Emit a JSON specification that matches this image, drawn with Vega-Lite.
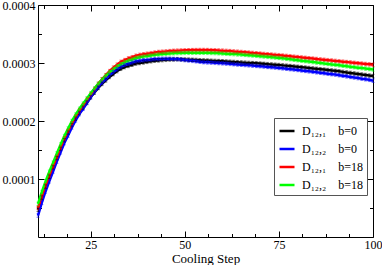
{
"$schema": "https://vega.github.io/schema/vega-lite/v6.json",
"width": 335, "height": 232,
"autosize": "none",
"padding": {"left": 38, "top": 5, "right": 9, "bottom": 28},
"config": {"font": "Liberation Serif", "view": {"stroke": null},
  "axis": {"grid": false, "domainColor": "#000", "tickColor": "#000", "labelColor": "#000", "labelFont": "Liberation Serif", "labelFontSize": 12, "titleFont": "Liberation Serif", "titleFontSize": 13, "titleFontWeight": "normal", "titleColor": "#000", "labelFlush": false, "labelOverlap": false, "domainWidth": 1, "tickWidth": 1}},
"data": {"values": [
{"s":11,"g":"K","v":0.47e-4,"e":0.03e-4},{"s":12,"g":"K","v":0.68e-4,"e":0.03e-4},{"s":13,"g":"K","v":0.87e-4,"e":0.03e-4},{"s":14,"g":"K","v":1.04e-4,"e":0.03e-4},{"s":15,"g":"K","v":1.20e-4,"e":0.03e-4},{"s":16,"g":"K","v":1.36e-4,"e":0.03e-4},{"s":17,"g":"K","v":1.52e-4,"e":0.03e-4},{"s":18,"g":"K","v":1.67e-4,"e":0.03e-4},{"s":19,"g":"K","v":1.80e-4,"e":0.03e-4},{"s":20,"g":"K","v":1.93e-4,"e":0.03e-4},
{"s":21,"g":"K","v":2.04e-4,"e":0.03e-4},{"s":22,"g":"K","v":2.14e-4,"e":0.03e-4},{"s":23,"g":"K","v":2.23e-4,"e":0.03e-4},{"s":24,"g":"K","v":2.32e-4,"e":0.03e-4},{"s":25,"g":"K","v":2.41e-4,"e":0.03e-4},{"s":26,"g":"K","v":2.49e-4,"e":0.03e-4},{"s":27,"g":"K","v":2.57e-4,"e":0.03e-4},{"s":28,"g":"K","v":2.64e-4,"e":0.03e-4},{"s":29,"g":"K","v":2.70e-4,"e":0.03e-4},{"s":30,"g":"K","v":2.76e-4,"e":0.03e-4},
{"s":31,"g":"K","v":2.81e-4,"e":0.03e-4},{"s":32,"g":"K","v":2.86e-4,"e":0.03e-4},{"s":33,"g":"K","v":2.90e-4,"e":0.03e-4},{"s":34,"g":"K","v":2.93e-4,"e":0.03e-4},{"s":35,"g":"K","v":2.95e-4,"e":0.03e-4},{"s":36,"g":"K","v":2.97e-4,"e":0.03e-4},{"s":37,"g":"K","v":2.99e-4,"e":0.03e-4},{"s":38,"g":"K","v":3.00e-4,"e":0.03e-4},{"s":39,"g":"K","v":3.01e-4,"e":0.03e-4},{"s":40,"g":"K","v":3.02e-4,"e":0.03e-4},
{"s":41,"g":"K","v":3.03e-4,"e":0.03e-4},{"s":42,"g":"K","v":3.04e-4,"e":0.03e-4},{"s":43,"g":"K","v":3.045e-4,"e":0.03e-4},{"s":44,"g":"K","v":3.05e-4,"e":0.03e-4},{"s":45,"g":"K","v":3.055e-4,"e":0.03e-4},{"s":46,"g":"K","v":3.06e-4,"e":0.03e-4},{"s":47,"g":"K","v":3.062e-4,"e":0.03e-4},{"s":48,"g":"K","v":3.065e-4,"e":0.03e-4},{"s":49,"g":"K","v":3.063e-4,"e":0.03e-4},{"s":50,"g":"K","v":3.06e-4,"e":0.03e-4},
{"s":51,"g":"K","v":3.058e-4,"e":0.03e-4},{"s":52,"g":"K","v":3.055e-4,"e":0.03e-4},{"s":53,"g":"K","v":3.052e-4,"e":0.03e-4},{"s":54,"g":"K","v":3.048e-4,"e":0.03e-4},{"s":55,"g":"K","v":3.045e-4,"e":0.03e-4},{"s":56,"g":"K","v":3.042e-4,"e":0.03e-4},{"s":57,"g":"K","v":3.039e-4,"e":0.03e-4},{"s":58,"g":"K","v":3.036e-4,"e":0.03e-4},{"s":59,"g":"K","v":3.033e-4,"e":0.03e-4},{"s":60,"g":"K","v":3.03e-4,"e":0.03e-4},
{"s":61,"g":"K","v":3.026e-4,"e":0.03e-4},{"s":62,"g":"K","v":3.022e-4,"e":0.03e-4},{"s":63,"g":"K","v":3.018e-4,"e":0.03e-4},{"s":64,"g":"K","v":3.014e-4,"e":0.03e-4},{"s":65,"g":"K","v":3.01e-4,"e":0.03e-4},{"s":66,"g":"K","v":3.006e-4,"e":0.03e-4},{"s":67,"g":"K","v":3.002e-4,"e":0.03e-4},{"s":68,"g":"K","v":2.998e-4,"e":0.03e-4},{"s":69,"g":"K","v":2.994e-4,"e":0.03e-4},{"s":70,"g":"K","v":2.99e-4,"e":0.03e-4},
{"s":71,"g":"K","v":2.985e-4,"e":0.03e-4},{"s":72,"g":"K","v":2.98e-4,"e":0.03e-4},{"s":73,"g":"K","v":2.975e-4,"e":0.03e-4},{"s":74,"g":"K","v":2.97e-4,"e":0.03e-4},{"s":75,"g":"K","v":2.965e-4,"e":0.03e-4},{"s":76,"g":"K","v":2.959e-4,"e":0.03e-4},{"s":77,"g":"K","v":2.953e-4,"e":0.03e-4},{"s":78,"g":"K","v":2.947e-4,"e":0.03e-4},{"s":79,"g":"K","v":2.941e-4,"e":0.03e-4},{"s":80,"g":"K","v":2.935e-4,"e":0.03e-4},
{"s":81,"g":"K","v":2.928e-4,"e":0.03e-4},{"s":82,"g":"K","v":2.921e-4,"e":0.03e-4},{"s":83,"g":"K","v":2.914e-4,"e":0.03e-4},{"s":84,"g":"K","v":2.907e-4,"e":0.03e-4},{"s":85,"g":"K","v":2.90e-4,"e":0.03e-4},{"s":86,"g":"K","v":2.893e-4,"e":0.03e-4},{"s":87,"g":"K","v":2.886e-4,"e":0.03e-4},{"s":88,"g":"K","v":2.879e-4,"e":0.03e-4},{"s":89,"g":"K","v":2.872e-4,"e":0.03e-4},{"s":90,"g":"K","v":2.865e-4,"e":0.03e-4},
{"s":91,"g":"K","v":2.856e-4,"e":0.03e-4},{"s":92,"g":"K","v":2.847e-4,"e":0.03e-4},{"s":93,"g":"K","v":2.838e-4,"e":0.03e-4},{"s":94,"g":"K","v":2.829e-4,"e":0.03e-4},{"s":95,"g":"K","v":2.82e-4,"e":0.03e-4},{"s":96,"g":"K","v":2.811e-4,"e":0.03e-4},{"s":97,"g":"K","v":2.802e-4,"e":0.03e-4},{"s":98,"g":"K","v":2.793e-4,"e":0.03e-4},{"s":99,"g":"K","v":2.784e-4,"e":0.03e-4},{"s":100,"g":"K","v":2.775e-4,"e":0.03e-4},
{"s":11,"g":"B","v":0.37e-4,"e":0.03e-4},{"s":12,"g":"B","v":0.59e-4,"e":0.03e-4},{"s":13,"g":"B","v":0.785e-4,"e":0.03e-4},{"s":14,"g":"B","v":0.96e-4,"e":0.03e-4},{"s":15,"g":"B","v":1.13e-4,"e":0.03e-4},{"s":16,"g":"B","v":1.30e-4,"e":0.03e-4},{"s":17,"g":"B","v":1.46e-4,"e":0.03e-4},{"s":18,"g":"B","v":1.62e-4,"e":0.03e-4},{"s":19,"g":"B","v":1.75e-4,"e":0.03e-4},{"s":20,"g":"B","v":1.89e-4,"e":0.03e-4},
{"s":21,"g":"B","v":2.01e-4,"e":0.03e-4},{"s":22,"g":"B","v":2.12e-4,"e":0.03e-4},{"s":23,"g":"B","v":2.21e-4,"e":0.03e-4},{"s":24,"g":"B","v":2.31e-4,"e":0.03e-4},{"s":25,"g":"B","v":2.41e-4,"e":0.03e-4},{"s":26,"g":"B","v":2.50e-4,"e":0.03e-4},{"s":27,"g":"B","v":2.58e-4,"e":0.03e-4},{"s":28,"g":"B","v":2.66e-4,"e":0.03e-4},{"s":29,"g":"B","v":2.72e-4,"e":0.03e-4},{"s":30,"g":"B","v":2.79e-4,"e":0.03e-4},
{"s":31,"g":"B","v":2.84e-4,"e":0.03e-4},{"s":32,"g":"B","v":2.89e-4,"e":0.03e-4},{"s":33,"g":"B","v":2.934e-4,"e":0.03e-4},{"s":34,"g":"B","v":2.965e-4,"e":0.03e-4},{"s":35,"g":"B","v":2.987e-4,"e":0.03e-4},{"s":36,"g":"B","v":3.008e-4,"e":0.03e-4},{"s":37,"g":"B","v":3.029e-4,"e":0.03e-4},{"s":38,"g":"B","v":3.04e-4,"e":0.03e-4},{"s":39,"g":"B","v":3.047e-4,"e":0.03e-4},{"s":40,"g":"B","v":3.054e-4,"e":0.03e-4},
{"s":41,"g":"B","v":3.06e-4,"e":0.03e-4},{"s":42,"g":"B","v":3.067e-4,"e":0.03e-4},{"s":43,"g":"B","v":3.069e-4,"e":0.03e-4},{"s":44,"g":"B","v":3.073e-4,"e":0.03e-4},{"s":45,"g":"B","v":3.075e-4,"e":0.03e-4},{"s":46,"g":"B","v":3.074e-4,"e":0.03e-4},{"s":47,"g":"B","v":3.07e-4,"e":0.03e-4},{"s":48,"g":"B","v":3.067e-4,"e":0.03e-4},{"s":49,"g":"B","v":3.059e-4,"e":0.03e-4},{"s":50,"g":"B","v":3.05e-4,"e":0.03e-4},
{"s":51,"g":"B","v":3.044e-4,"e":0.03e-4},{"s":52,"g":"B","v":3.037e-4,"e":0.03e-4},{"s":53,"g":"B","v":3.03e-4,"e":0.03e-4},{"s":54,"g":"B","v":3.022e-4,"e":0.03e-4},{"s":55,"g":"B","v":3.015e-4,"e":0.03e-4},{"s":56,"g":"B","v":3.011e-4,"e":0.03e-4},{"s":57,"g":"B","v":3.007e-4,"e":0.03e-4},{"s":58,"g":"B","v":3.003e-4,"e":0.03e-4},{"s":59,"g":"B","v":2.999e-4,"e":0.03e-4},{"s":60,"g":"B","v":2.995e-4,"e":0.03e-4},
{"s":61,"g":"B","v":2.99e-4,"e":0.03e-4},{"s":62,"g":"B","v":2.985e-4,"e":0.03e-4},{"s":63,"g":"B","v":2.98e-4,"e":0.03e-4},{"s":64,"g":"B","v":2.975e-4,"e":0.03e-4},{"s":65,"g":"B","v":2.97e-4,"e":0.03e-4},{"s":66,"g":"B","v":2.965e-4,"e":0.03e-4},{"s":67,"g":"B","v":2.96e-4,"e":0.03e-4},{"s":68,"g":"B","v":2.955e-4,"e":0.03e-4},{"s":69,"g":"B","v":2.95e-4,"e":0.03e-4},{"s":70,"g":"B","v":2.945e-4,"e":0.03e-4},
{"s":71,"g":"B","v":2.939e-4,"e":0.03e-4},{"s":72,"g":"B","v":2.933e-4,"e":0.03e-4},{"s":73,"g":"B","v":2.927e-4,"e":0.03e-4},{"s":74,"g":"B","v":2.921e-4,"e":0.03e-4},{"s":75,"g":"B","v":2.915e-4,"e":0.03e-4},{"s":76,"g":"B","v":2.908e-4,"e":0.03e-4},{"s":77,"g":"B","v":2.901e-4,"e":0.03e-4},{"s":78,"g":"B","v":2.894e-4,"e":0.03e-4},{"s":79,"g":"B","v":2.887e-4,"e":0.03e-4},{"s":80,"g":"B","v":2.88e-4,"e":0.03e-4},
{"s":81,"g":"B","v":2.872e-4,"e":0.03e-4},{"s":82,"g":"B","v":2.864e-4,"e":0.03e-4},{"s":83,"g":"B","v":2.856e-4,"e":0.03e-4},{"s":84,"g":"B","v":2.848e-4,"e":0.03e-4},{"s":85,"g":"B","v":2.84e-4,"e":0.03e-4},{"s":86,"g":"B","v":2.832e-4,"e":0.03e-4},{"s":87,"g":"B","v":2.824e-4,"e":0.03e-4},{"s":88,"g":"B","v":2.816e-4,"e":0.03e-4},{"s":89,"g":"B","v":2.808e-4,"e":0.03e-4},{"s":90,"g":"B","v":2.80e-4,"e":0.03e-4},
{"s":91,"g":"B","v":2.79e-4,"e":0.03e-4},{"s":92,"g":"B","v":2.78e-4,"e":0.03e-4},{"s":93,"g":"B","v":2.77e-4,"e":0.03e-4},{"s":94,"g":"B","v":2.76e-4,"e":0.03e-4},{"s":95,"g":"B","v":2.75e-4,"e":0.03e-4},{"s":96,"g":"B","v":2.74e-4,"e":0.03e-4},{"s":97,"g":"B","v":2.73e-4,"e":0.03e-4},{"s":98,"g":"B","v":2.72e-4,"e":0.03e-4},{"s":99,"g":"B","v":2.71e-4,"e":0.03e-4},{"s":100,"g":"B","v":2.695e-4,"e":0.03e-4},
{"s":11,"g":"R","v":0.50e-4,"e":0.03e-4},{"s":12,"g":"R","v":0.70e-4,"e":0.03e-4},{"s":13,"g":"R","v":0.89e-4,"e":0.03e-4},{"s":14,"g":"R","v":1.06e-4,"e":0.03e-4},{"s":15,"g":"R","v":1.22e-4,"e":0.03e-4},{"s":16,"g":"R","v":1.38e-4,"e":0.03e-4},{"s":17,"g":"R","v":1.545e-4,"e":0.03e-4},{"s":18,"g":"R","v":1.70e-4,"e":0.03e-4},{"s":19,"g":"R","v":1.83e-4,"e":0.03e-4},{"s":20,"g":"R","v":1.96e-4,"e":0.03e-4},
{"s":21,"g":"R","v":2.075e-4,"e":0.03e-4},{"s":22,"g":"R","v":2.18e-4,"e":0.03e-4},{"s":23,"g":"R","v":2.275e-4,"e":0.03e-4},{"s":24,"g":"R","v":2.37e-4,"e":0.03e-4},{"s":25,"g":"R","v":2.46e-4,"e":0.03e-4},{"s":26,"g":"R","v":2.55e-4,"e":0.03e-4},{"s":27,"g":"R","v":2.64e-4,"e":0.03e-4},{"s":28,"g":"R","v":2.72e-4,"e":0.03e-4},{"s":29,"g":"R","v":2.79e-4,"e":0.03e-4},{"s":30,"g":"R","v":2.86e-4,"e":0.03e-4},
{"s":31,"g":"R","v":2.92e-4,"e":0.03e-4},{"s":32,"g":"R","v":2.97e-4,"e":0.03e-4},{"s":33,"g":"R","v":3.02e-4,"e":0.03e-4},{"s":34,"g":"R","v":3.05e-4,"e":0.03e-4},{"s":35,"g":"R","v":3.08e-4,"e":0.03e-4},{"s":36,"g":"R","v":3.10e-4,"e":0.03e-4},{"s":37,"g":"R","v":3.125e-4,"e":0.03e-4},{"s":38,"g":"R","v":3.14e-4,"e":0.03e-4},{"s":39,"g":"R","v":3.15e-4,"e":0.03e-4},{"s":40,"g":"R","v":3.16e-4,"e":0.03e-4},
{"s":41,"g":"R","v":3.17e-4,"e":0.03e-4},{"s":42,"g":"R","v":3.18e-4,"e":0.03e-4},{"s":43,"g":"R","v":3.19e-4,"e":0.03e-4},{"s":44,"g":"R","v":3.195e-4,"e":0.03e-4},{"s":45,"g":"R","v":3.20e-4,"e":0.03e-4},{"s":46,"g":"R","v":3.205e-4,"e":0.03e-4},{"s":47,"g":"R","v":3.21e-4,"e":0.03e-4},{"s":48,"g":"R","v":3.213e-4,"e":0.03e-4},{"s":49,"g":"R","v":3.216e-4,"e":0.03e-4},{"s":50,"g":"R","v":3.218e-4,"e":0.03e-4},
{"s":51,"g":"R","v":3.22e-4,"e":0.03e-4},{"s":52,"g":"R","v":3.222e-4,"e":0.03e-4},{"s":53,"g":"R","v":3.223e-4,"e":0.03e-4},{"s":54,"g":"R","v":3.224e-4,"e":0.03e-4},{"s":55,"g":"R","v":3.224e-4,"e":0.03e-4},{"s":56,"g":"R","v":3.223e-4,"e":0.03e-4},{"s":57,"g":"R","v":3.221e-4,"e":0.03e-4},{"s":58,"g":"R","v":3.219e-4,"e":0.03e-4},{"s":59,"g":"R","v":3.216e-4,"e":0.03e-4},{"s":60,"g":"R","v":3.213e-4,"e":0.03e-4},
{"s":61,"g":"R","v":3.209e-4,"e":0.03e-4},{"s":62,"g":"R","v":3.205e-4,"e":0.03e-4},{"s":63,"g":"R","v":3.20e-4,"e":0.03e-4},{"s":64,"g":"R","v":3.195e-4,"e":0.03e-4},{"s":65,"g":"R","v":3.19e-4,"e":0.03e-4},{"s":66,"g":"R","v":3.185e-4,"e":0.03e-4},{"s":67,"g":"R","v":3.18e-4,"e":0.03e-4},{"s":68,"g":"R","v":3.174e-4,"e":0.03e-4},{"s":69,"g":"R","v":3.168e-4,"e":0.03e-4},{"s":70,"g":"R","v":3.162e-4,"e":0.03e-4},
{"s":71,"g":"R","v":3.156e-4,"e":0.03e-4},{"s":72,"g":"R","v":3.15e-4,"e":0.03e-4},{"s":73,"g":"R","v":3.145e-4,"e":0.03e-4},{"s":74,"g":"R","v":3.14e-4,"e":0.03e-4},{"s":75,"g":"R","v":3.135e-4,"e":0.03e-4},{"s":76,"g":"R","v":3.128e-4,"e":0.03e-4},{"s":77,"g":"R","v":3.122e-4,"e":0.03e-4},{"s":78,"g":"R","v":3.115e-4,"e":0.03e-4},{"s":79,"g":"R","v":3.109e-4,"e":0.03e-4},{"s":80,"g":"R","v":3.102e-4,"e":0.03e-4},
{"s":81,"g":"R","v":3.095e-4,"e":0.03e-4},{"s":82,"g":"R","v":3.089e-4,"e":0.03e-4},{"s":83,"g":"R","v":3.082e-4,"e":0.03e-4},{"s":84,"g":"R","v":3.076e-4,"e":0.03e-4},{"s":85,"g":"R","v":3.069e-4,"e":0.03e-4},{"s":86,"g":"R","v":3.062e-4,"e":0.03e-4},{"s":87,"g":"R","v":3.056e-4,"e":0.03e-4},{"s":88,"g":"R","v":3.049e-4,"e":0.03e-4},{"s":89,"g":"R","v":3.043e-4,"e":0.03e-4},{"s":90,"g":"R","v":3.036e-4,"e":0.03e-4},
{"s":91,"g":"R","v":3.029e-4,"e":0.03e-4},{"s":92,"g":"R","v":3.023e-4,"e":0.03e-4},{"s":93,"g":"R","v":3.016e-4,"e":0.03e-4},{"s":94,"g":"R","v":3.01e-4,"e":0.03e-4},{"s":95,"g":"R","v":3.003e-4,"e":0.03e-4},{"s":96,"g":"R","v":2.996e-4,"e":0.03e-4},{"s":97,"g":"R","v":2.99e-4,"e":0.03e-4},{"s":98,"g":"R","v":2.983e-4,"e":0.03e-4},{"s":99,"g":"R","v":2.977e-4,"e":0.03e-4},{"s":100,"g":"R","v":2.97e-4,"e":0.03e-4},
{"s":11,"g":"G","v":0.57e-4,"e":0.03e-4},{"s":12,"g":"G","v":0.775e-4,"e":0.03e-4},{"s":13,"g":"G","v":0.96e-4,"e":0.03e-4},{"s":14,"g":"G","v":1.125e-4,"e":0.03e-4},{"s":15,"g":"G","v":1.28e-4,"e":0.03e-4},{"s":16,"g":"G","v":1.44e-4,"e":0.03e-4},{"s":17,"g":"G","v":1.595e-4,"e":0.03e-4},{"s":18,"g":"G","v":1.74e-4,"e":0.03e-4},{"s":19,"g":"G","v":1.87e-4,"e":0.03e-4},{"s":20,"g":"G","v":2.00e-4,"e":0.03e-4},
{"s":21,"g":"G","v":2.11e-4,"e":0.03e-4},{"s":22,"g":"G","v":2.21e-4,"e":0.03e-4},{"s":23,"g":"G","v":2.30e-4,"e":0.03e-4},{"s":24,"g":"G","v":2.39e-4,"e":0.03e-4},{"s":25,"g":"G","v":2.48e-4,"e":0.03e-4},{"s":26,"g":"G","v":2.56e-4,"e":0.03e-4},{"s":27,"g":"G","v":2.64e-4,"e":0.03e-4},{"s":28,"g":"G","v":2.715e-4,"e":0.03e-4},{"s":29,"g":"G","v":2.78e-4,"e":0.03e-4},{"s":30,"g":"G","v":2.84e-4,"e":0.03e-4},
{"s":31,"g":"G","v":2.89e-4,"e":0.03e-4},{"s":32,"g":"G","v":2.94e-4,"e":0.03e-4},{"s":33,"g":"G","v":2.98e-4,"e":0.03e-4},{"s":34,"g":"G","v":3.01e-4,"e":0.03e-4},{"s":35,"g":"G","v":3.04e-4,"e":0.03e-4},{"s":36,"g":"G","v":3.06e-4,"e":0.03e-4},{"s":37,"g":"G","v":3.085e-4,"e":0.03e-4},{"s":38,"g":"G","v":3.10e-4,"e":0.03e-4},{"s":39,"g":"G","v":3.11e-4,"e":0.03e-4},{"s":40,"g":"G","v":3.12e-4,"e":0.03e-4},
{"s":41,"g":"G","v":3.13e-4,"e":0.03e-4},{"s":42,"g":"G","v":3.14e-4,"e":0.03e-4},{"s":43,"g":"G","v":3.148e-4,"e":0.03e-4},{"s":44,"g":"G","v":3.155e-4,"e":0.03e-4},{"s":45,"g":"G","v":3.16e-4,"e":0.03e-4},{"s":46,"g":"G","v":3.165e-4,"e":0.03e-4},{"s":47,"g":"G","v":3.168e-4,"e":0.03e-4},{"s":48,"g":"G","v":3.171e-4,"e":0.03e-4},{"s":49,"g":"G","v":3.173e-4,"e":0.03e-4},{"s":50,"g":"G","v":3.175e-4,"e":0.03e-4},
{"s":51,"g":"G","v":3.176e-4,"e":0.03e-4},{"s":52,"g":"G","v":3.177e-4,"e":0.03e-4},{"s":53,"g":"G","v":3.177e-4,"e":0.03e-4},{"s":54,"g":"G","v":3.177e-4,"e":0.03e-4},{"s":55,"g":"G","v":3.176e-4,"e":0.03e-4},{"s":56,"g":"G","v":3.175e-4,"e":0.03e-4},{"s":57,"g":"G","v":3.173e-4,"e":0.03e-4},{"s":58,"g":"G","v":3.171e-4,"e":0.03e-4},{"s":59,"g":"G","v":3.168e-4,"e":0.03e-4},{"s":60,"g":"G","v":3.165e-4,"e":0.03e-4},
{"s":61,"g":"G","v":3.161e-4,"e":0.03e-4},{"s":62,"g":"G","v":3.157e-4,"e":0.03e-4},{"s":63,"g":"G","v":3.153e-4,"e":0.03e-4},{"s":64,"g":"G","v":3.149e-4,"e":0.03e-4},{"s":65,"g":"G","v":3.145e-4,"e":0.03e-4},{"s":66,"g":"G","v":3.14e-4,"e":0.03e-4},{"s":67,"g":"G","v":3.135e-4,"e":0.03e-4},{"s":68,"g":"G","v":3.13e-4,"e":0.03e-4},{"s":69,"g":"G","v":3.124e-4,"e":0.03e-4},{"s":70,"g":"G","v":3.118e-4,"e":0.03e-4},
{"s":71,"g":"G","v":3.112e-4,"e":0.03e-4},{"s":72,"g":"G","v":3.106e-4,"e":0.03e-4},{"s":73,"g":"G","v":3.10e-4,"e":0.03e-4},{"s":74,"g":"G","v":3.094e-4,"e":0.03e-4},{"s":75,"g":"G","v":3.088e-4,"e":0.03e-4},{"s":76,"g":"G","v":3.08e-4,"e":0.03e-4},{"s":77,"g":"G","v":3.072e-4,"e":0.03e-4},{"s":78,"g":"G","v":3.064e-4,"e":0.03e-4},{"s":79,"g":"G","v":3.056e-4,"e":0.03e-4},{"s":80,"g":"G","v":3.048e-4,"e":0.03e-4},
{"s":81,"g":"G","v":3.04e-4,"e":0.03e-4},{"s":82,"g":"G","v":3.032e-4,"e":0.03e-4},{"s":83,"g":"G","v":3.024e-4,"e":0.03e-4},{"s":84,"g":"G","v":3.016e-4,"e":0.03e-4},{"s":85,"g":"G","v":3.008e-4,"e":0.03e-4},{"s":86,"g":"G","v":3.0e-4,"e":0.03e-4},{"s":87,"g":"G","v":2.992e-4,"e":0.03e-4},{"s":88,"g":"G","v":2.984e-4,"e":0.03e-4},{"s":89,"g":"G","v":2.976e-4,"e":0.03e-4},{"s":90,"g":"G","v":2.968e-4,"e":0.03e-4},
{"s":91,"g":"G","v":2.96e-4,"e":0.03e-4},{"s":92,"g":"G","v":2.952e-4,"e":0.03e-4},{"s":93,"g":"G","v":2.944e-4,"e":0.03e-4},{"s":94,"g":"G","v":2.936e-4,"e":0.03e-4},{"s":95,"g":"G","v":2.928e-4,"e":0.03e-4},{"s":96,"g":"G","v":2.92e-4,"e":0.03e-4},{"s":97,"g":"G","v":2.912e-4,"e":0.03e-4},{"s":98,"g":"G","v":2.904e-4,"e":0.03e-4},{"s":99,"g":"G","v":2.896e-4,"e":0.03e-4},{"s":100,"g":"G","v":2.888e-4,"e":0.03e-4}
]},
"layer": [
 {"mark": {"type": "line"},
  "encoding": {
   "x": {"field": "s", "type": "quantitative", "scale": {"domain": [11, 100], "nice": false, "zero": false},
     "axis": {"orient": "bottom", "values": [12.5,18.75,25,31.25,37.5,43.75,50,56.25,62.5,68.75,75,81.25,87.5,93.75,100], "format": "d", "labelExpr": "datum.value % 25 == 0 ? datum.label : ''", "tickSize": {"condition": {"test": "datum.value % 25 == 0", "value": -6}, "value": -3.5}, "labelPadding": 8, "title": "Cooling Step", "titlePadding": 0}},
   "y": {"field": "v", "type": "quantitative", "scale": {"domain": [0, 0.0004], "nice": false, "zero": false},
     "axis": {"orient": "left", "values": [0.00005,0.0001,0.00015,0.0002,0.00025,0.0003,0.00035,0.0004], "format": ".4f", "labelExpr": "round(datum.value*100000) % 10 == 0 ? datum.label : ''", "tickSize": {"condition": {"test": "round(datum.value*100000) % 10 == 0", "value": -6}, "value": -3.5}, "labelPadding": 9, "title": null}},
   "color": {"field": "g", "type": "nominal", "scale": {"domain": ["K","B","R","G"], "range": ["#000000","#0000ff","#ff0000","#00ff00"]},
     "legend": {"orient": "none", "legendX": 236, "legendY": 113, "title": null, "padding": 4, "strokeColor": "#555", "fillColor": "#fff", "symbolType": "stroke", "symbolSize": 225, "symbolStrokeWidth": 1, "labelFont": "Liberation Serif", "labelFontSize": 12, "labelColor": "#000", "rowPadding": 3, "labelOffset": 6,
       "labelExpr": "datum.label == 'K' ? 'D₁₂,₁\u2003b=0' : datum.label == 'B' ? 'D₁₂,₂\u2003b=0' : datum.label == 'R' ? 'D₁₂,₁\u2003b=18' : 'D₁₂,₂\u2003b=18'",
       "encode": {"symbols": {"update": {"strokeWidth": {"signal": "datum.value == 'K' || datum.value == 'B' ? 3 : 1"}}}}}},
   "strokeWidth": {"field": "g", "type": "nominal", "scale": {"domain": ["K","B","R","G"], "range": [2.5,2.5,1,1]}, "legend": null}
  }},
 {"mark": {"type": "errorbar", "ticks": {"size": 3}, "thickness": 1, "opacity": 0.5},
  "encoding": {
   "x": {"field": "s", "type": "quantitative", "axis": null},
   "y": {"field": "v", "type": "quantitative", "axis": null},
   "yError": {"field": "e"},
   "color": {"field": "g", "type": "nominal", "legend": null}
  }},
 {"mark": {"type": "point", "opacity": 0},
  "encoding": {
   "x": {"field": "s", "type": "quantitative",
     "axis": {"orient": "top", "values": [12.5,18.75,25,31.25,37.5,43.75,50,56.25,62.5,68.75,75,81.25,87.5,93.75,100], "labels": false, "tickSize": {"condition": {"test": "datum.value % 25 == 0", "value": -6}, "value": -3.5}, "title": null}},
   "y": {"field": "v", "type": "quantitative",
     "axis": {"orient": "right", "values": [0.00005,0.0001,0.00015,0.0002,0.00025,0.0003,0.00035,0.0004], "labels": false, "tickSize": {"condition": {"test": "round(datum.value*100000) % 10 == 0", "value": -6}, "value": -3.5}, "title": null}}
  }}
],
"resolve": {"axis": {"x": "independent", "y": "independent"}}
}
